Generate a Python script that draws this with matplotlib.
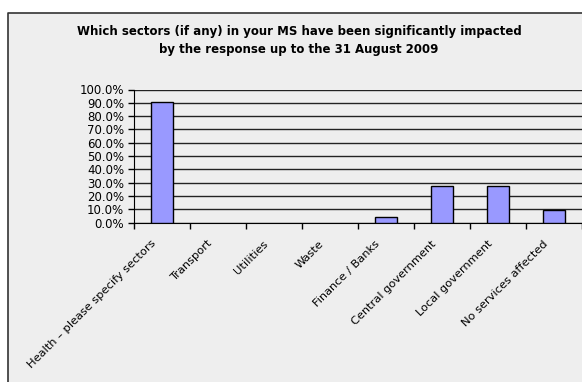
import matplotlib
matplotlib.use("Agg")
import matplotlib.pyplot as plt
from matplotlib.patches import Rectangle
from matplotlib.lines import Line2D
from matplotlib.transforms import ScaledTranslation
import numpy as np

# Share of responding member states reporting each sector as impacted
sectors = [
    "Health \u2013 please specify sectors",
    "Transport",
    "Utilities",
    "Waste",
    "Finance / Banks",
    "Central government",
    "Local government",
    "No services affected",
]
share = [0.909, 0.0, 0.0, 0.0, 0.045, 0.273, 0.273, 0.091]
y_ticks = np.arange(0, 1.01, 0.1)

title = ("Which sectors (if any) in your MS have been significantly impacted\n"
         "by the response up to the 31 August 2009")

W, H = 582, 382
fig = plt.figure(figsize=(W / 100, H / 100), dpi=100)
fig.patch.set_facecolor("white")

# chart area panel (runs off the right and bottom edges)
x0, y0 = 7.5 / W, 1 - 12.5 / H
fig.patches.append(Rectangle((x0, 0), 1 - x0, y0, transform=fig.transFigure,
                             facecolor="#eeeeee", edgecolor="none", zorder=-2))
fig.lines.append(Line2D([x0, x0, 1], [0, y0, y0], transform=fig.transFigure,
                        color="#333333", linewidth=1.2, zorder=-1))

fig.text(299 / W, 1 - 40.5 / H, title, ha="center", va="center",
         fontsize=8.5, fontweight="bold", linespacing=1.4)

ax = fig.add_axes([134 / W, (H - 222.5) / H, 448 / W, 133 / H])
ax.patch.set_alpha(0)

x = np.arange(len(sectors))
# empty categories get no outline at all
edges = ["black" if v > 0 else "none" for v in share]
ax.bar(x, share, width=0.39, color="#9999ff", edgecolor=edges,
       linewidth=1.0, zorder=3)

ax.set_xlim(-0.5, len(sectors) - 0.5)
ax.set_ylim(0, 1.0)
ax.set_yticks(y_ticks)
ax.set_yticklabels([f"{v * 100:.1f}%" for v in y_ticks], fontsize=8.5)
ax.yaxis.grid(True, color="#222222", linewidth=1.0, zorder=0)

# ticks mark the category boundaries
ax.set_xticks(np.arange(len(sectors) + 1) - 0.5)
ax.set_xticklabels([])
ax.tick_params(axis="x", length=4, direction="out", color="black", width=1.0)
ax.tick_params(axis="y", length=4, direction="out", color="black",
               width=1.0, pad=3)

# slanted category names, ending just left of each bar centre
shift = ScaledTranslation(-11 / 100, -16 / 100, fig.dpi_scale_trans)
for xi, name in zip(x, sectors):
    ax.text(xi, 0, name, transform=ax.get_xaxis_transform() + shift,
            rotation=45, ha="right", va="top", rotation_mode="anchor",
            fontsize=8.2)

for side in ["top", "right"]:
    ax.spines[side].set_visible(False)
ax.spines["left"].set_color("black")
ax.spines["bottom"].set_color("black")

fig.savefig("out.png", dpi=100, facecolor=fig.get_facecolor())
